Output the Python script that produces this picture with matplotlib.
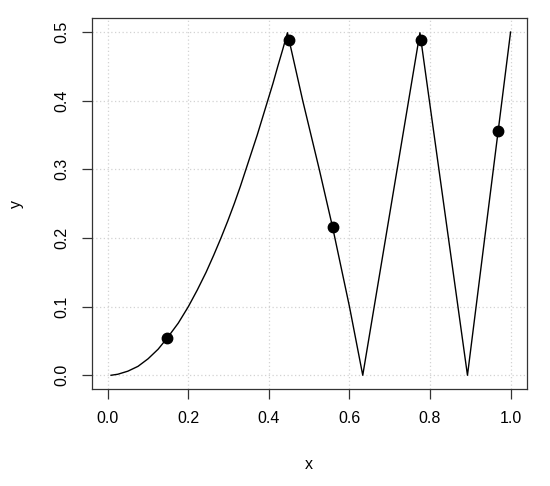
import matplotlib
matplotlib.use("Agg")
import matplotlib.pyplot as plt

plt.rcParams["font.family"] = ["Liberation Sans", "DejaVu Sans"]

# curve
curve_x = [0.008, 0.025, 0.05, 0.075, 0.10, 0.125, 0.148, 0.175, 0.20, 0.222,
           0.244, 0.263, 0.281, 0.298, 0.314, 0.329, 0.343, 0.357, 0.371, 0.384,
           0.397, 0.41, 0.422, 0.434, 0.446,
           0.484, 0.525, 0.558, 0.60, 0.633,
           0.775,
           0.893,
           0.969, 1.0]
curve_y = [0.0, 0.0015, 0.006, 0.013, 0.024, 0.038, 0.0546, 0.076, 0.10, 0.124,
           0.15, 0.175, 0.20, 0.225, 0.25, 0.275, 0.30, 0.325, 0.35, 0.375,
           0.40, 0.425, 0.45, 0.474, 0.499,
           0.40, 0.30, 0.216, 0.10, 0.0,
           0.499,
           0.0,
           0.355, 0.5]

# points
pts_x = [0.148, 0.449, 0.558, 0.777, 0.969]
pts_y = [0.0546, 0.489, 0.216, 0.489, 0.356]

xticks = [0.0, 0.2, 0.4, 0.6, 0.8, 1.0]
yticks = [0.0, 0.1, 0.2, 0.3, 0.4, 0.5]

fig = plt.figure(figsize=(5.5, 4.86), dpi=100)
ax = fig.add_axes([0.1667, 0.1996, 0.9576 - 0.1667, 0.9623 - 0.1996])

ax.grid(True, color="#d3d3d3", linestyle=(0, (1, 2)), linewidth=0.9)
ax.set_axisbelow(True)
ax.plot(curve_x, curve_y, color="black", linewidth=1.0)
ax.plot(pts_x, pts_y, "o", color="black", markersize=7.5)

ax.set_xlim(-0.04, 1.04)
ax.set_ylim(-0.02, 0.52)
ax.set_xticks(xticks)
ax.set_yticks(yticks)
ax.set_xticklabels([f"{v:.1f}" for v in xticks])
ax.set_yticklabels([f"{v:.1f}" for v in yticks], rotation=90, va="center")
ax.tick_params(length=7.2, width=0.9, color="#333333", labelsize=11.5, pad=9)
for s in ax.spines.values():
    s.set_color("#333333")
    s.set_linewidth(0.9)

ax.set_xlabel("x", fontsize=11.5, labelpad=22)
ax.set_ylabel("y", fontsize=11.5, labelpad=22)

fig.savefig("out.png", dpi=100)
